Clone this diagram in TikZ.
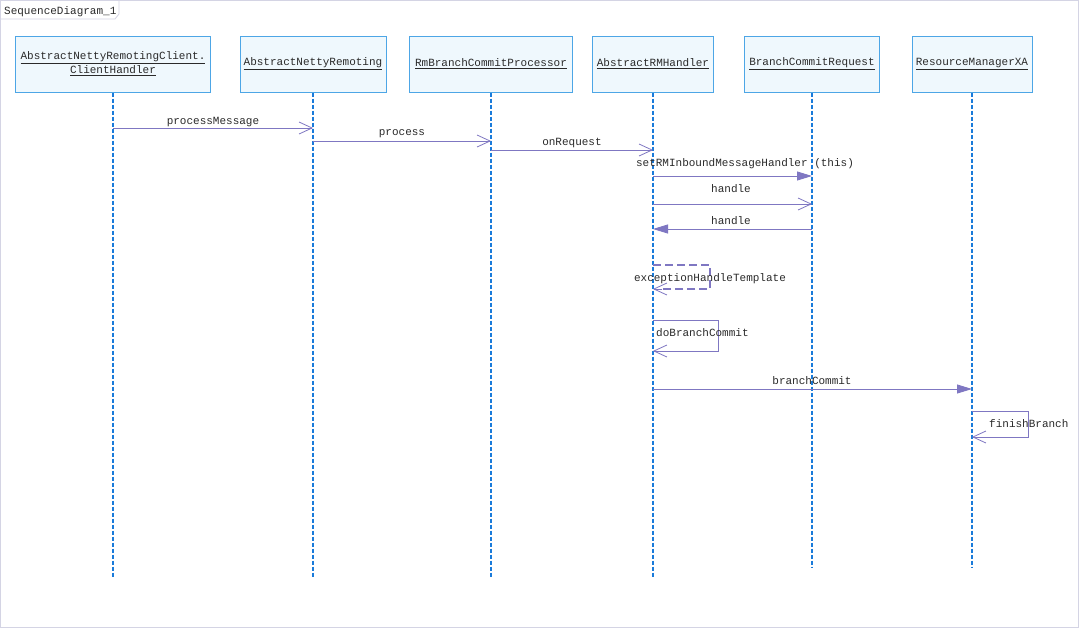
\documentclass[tikz,border=0pt]{standalone}
\usepackage{fontspec}
\setmonofont{Liberation Mono}
\usetikzlibrary{arrows.meta}
\definecolor{msg}{HTML}{7F77C2}
\definecolor{life}{HTML}{1A7BDA}
\definecolor{boxfill}{HTML}{EFF8FD}
\definecolor{boxdraw}{HTML}{4DA6E6}
\definecolor{frame}{HTML}{D4D4E4}
\definecolor{txt}{HTML}{2A2A2A}
\tikzset{
  obj/.style={draw=boxdraw, fill=boxfill, line width=1pt, minimum height=56pt, inner sep=2pt, align=center, text=txt, font=\ttfamily\fontsize{11}{14}\selectfont},
  lifeline/.style={draw=life, line width=1.7pt, dash pattern=on 4pt off 2pt},
  msgopen/.style={draw=msg, line width=0.9pt, -{Straight Barb[length=13pt,width=12pt,line width=0.8pt]}},
  msgfill/.style={draw=msg, line width=0.9pt, -{Triangle[length=15pt,width=9pt]}, fill=msg},
  lbl/.style={text=txt, font=\ttfamily\fontsize{11}{12}\selectfont, inner sep=0pt, anchor=base},
}
\begin{document}
\begin{tikzpicture}[x=1pt,y=-1pt]
\useasboundingbox (0,0) rectangle (1080,630);
\fill[white] (0,0) rectangle (1080,630);
\draw[frame, line width=1pt] (0.5,0.5) rectangle (1078.5,627.5);
% tab
\draw[frame, line width=0.8pt, fill=white] (0.5,0.5) -- (119,0.5) -- (119,14) -- (115,19) -- (0.5,19) -- cycle;
\node[lbl, anchor=base west] (title) at (4,14) {SequenceDiagram\_1};

% objects
\node[obj, minimum width=195pt] (o1) at (113,64) {\underline{AbstractNettyRemotingClient.}\\\underline{ClientHandler}};
\node[obj, minimum width=146pt] (o2) at (313,64) {\underline{AbstractNettyRemoting}};
\node[obj, minimum width=163pt] (o3) at (491,64) {\underline{RmBranchCommitProcessor}};
\node[obj, minimum width=121pt] (o4) at (653,64) {\underline{AbstractRMHandler}};
\node[obj, minimum width=135pt] (o5) at (812,64) {\underline{BranchCommitRequest}};
\node[obj, minimum width=120pt] (o6) at (972,64) {\underline{ResourceManagerXA}};

% lifeline ends
\coordinate (e1) at (113,578);
\coordinate (e2) at (313,578);
\coordinate (e3) at (491,578);
\coordinate (e4) at (653,578);
\coordinate (e5) at (812,567);
\coordinate (e6) at (972,567);
\draw[lifeline] (o1.south) -- (e1);
\draw[lifeline] (o2.south) -- (e2);
\draw[lifeline] (o3.south) -- (e3);
\draw[lifeline] (o4.south) -- (e4);
\draw[lifeline] (o5.south) -- (e5);
\draw[lifeline] (o6.south) -- (e6);

% message points
\coordinate (p1a) at (113,128); \coordinate (p1b) at (313,128);
\coordinate (p2a) at (313,141); \coordinate (p2b) at (491,141);
\coordinate (p3a) at (491,150); \coordinate (p3b) at (653,150);
\coordinate (p4a) at (653,176); \coordinate (p4b) at (812,176);
\coordinate (p5a) at (653,204); \coordinate (p5b) at (812,204);
\coordinate (p6a) at (812,229); \coordinate (p6b) at (653,229);
\coordinate (p9a) at (653,389); \coordinate (p9b) at (972,389);

\draw[msgopen] (p1a) -- (p1b);
\node[lbl] (t1) at (213,124) {processMessage};
\draw[msgopen] (p2a) -- (p2b);
\node[lbl] (t2) at (402,135) {process};
\draw[msgopen] (p3a) -- (p3b);
\node[lbl] (t3) at (572,145) {onRequest};
\draw[msgfill] (p4a) -- (p4b);
\node[lbl] (t4) at (745,166) {setRMInboundMessageHandler (this)};
\draw[msgopen] (p5a) -- (p5b);
\node[lbl] (t5) at (731,192) {handle};
\draw[msgfill] (p6a) -- (p6b);
\node[lbl] (t6) at (731,224) {handle};

% self calls
\coordinate (s1a) at (653,265); \coordinate (s1b) at (653,289);
\draw[msg, line width=1.7pt, dash pattern=on 8pt off 4pt] (s1a) -- (710,265) -- (710,289) -- (662,289);
\draw[msgopen] (662,289) -- (s1b);
\node[lbl] (t7) at (710,281) {exceptionHandleTemplate};

\coordinate (s2a) at (653,320); \coordinate (s2b) at (653,351);
\draw[msgopen] (s2a) -- (718,320) -- (718,351) -- (s2b);
\node[lbl, anchor=base west] (t8) at (656,336) {doBranchCommit};

\draw[msgfill] (p9a) -- (p9b);
\node[lbl] (t9) at (812,384) {branchCommit};

\coordinate (s3a) at (972,411); \coordinate (s3b) at (972,437);
\draw[msgopen] (s3a) -- (1028,411) -- (1028,437) -- (s3b);
\node[lbl, anchor=base west] (t10) at (989,427) {finishBranch};
\end{tikzpicture}
\end{document}
